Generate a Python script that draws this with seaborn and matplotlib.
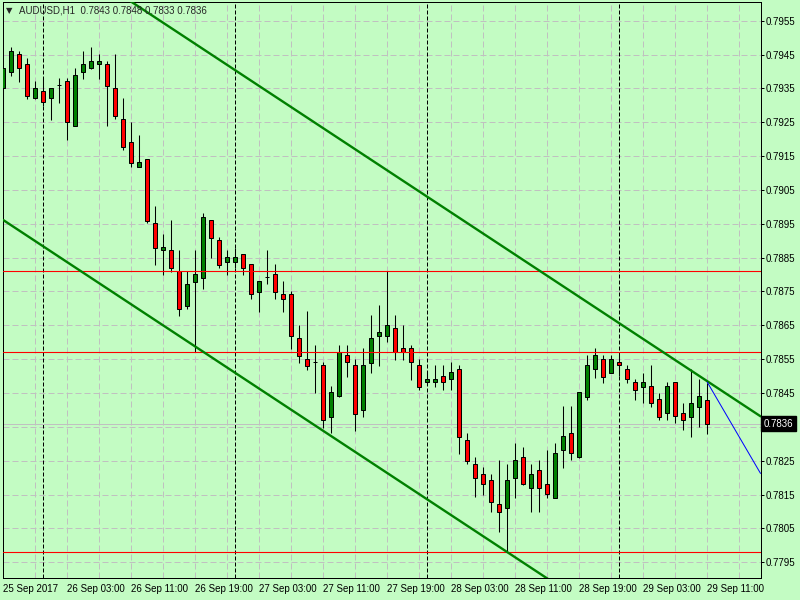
"""AUDUSD H1 candlestick chart with channel and level lines (MT4 style)."""

import matplotlib

matplotlib.use("Agg")

import matplotlib.pyplot as plt
import matplotlib.transforms as mtransforms
import numpy as np
import pandas as pd
import seaborn as sns

# hourly bars, 25 Sep 2017 19:00 .. 29 Sep 2017 11:00
opens = [
    0.79350, 0.79399, 0.79451, 0.79421, 0.79321, 0.79341, 0.79321, 0.79359, 0.79371, 0.79240,
    0.79399, 0.79409, 0.79421, 0.79421, 0.79350, 0.79259, 0.79191, 0.79119, 0.79141, 0.78951,
    0.78872, 0.78872, 0.78810, 0.78708, 0.78779, 0.78791, 0.78960, 0.78902, 0.78838, 0.78838,
    0.78860, 0.78830, 0.78749, 0.78792, 0.78801, 0.78742, 0.78742, 0.78612, 0.78551, 0.78541,
    0.78532, 0.78380, 0.78440, 0.78562, 0.78532, 0.78401, 0.78540, 0.78619, 0.78619, 0.78641,
    0.78582, 0.78582, 0.78533, 0.78482, 0.78482, 0.78500, 0.78491, 0.78521, 0.78311, 0.78241,
    0.78210, 0.78192, 0.78121, 0.78111, 0.78200, 0.78260, 0.78170, 0.78222, 0.78180, 0.78141,
    0.78281, 0.78331, 0.78260, 0.78439, 0.78520, 0.78550, 0.78510, 0.78541, 0.78520, 0.78482,
    0.78469, 0.78470, 0.78432, 0.78390, 0.78482, 0.78390, 0.78380, 0.78410, 0.78430,
]
highs = [
    0.79410, 0.79471, 0.79460, 0.79439, 0.79372, 0.79380, 0.79350, 0.79380, 0.79380, 0.79409,
    0.79460, 0.79471, 0.79451, 0.79430, 0.79451, 0.79321, 0.79250, 0.79212, 0.79142, 0.79003,
    0.78920, 0.78961, 0.78873, 0.78810, 0.78873, 0.78983, 0.78962, 0.78910, 0.78873, 0.78879,
    0.78862, 0.78832, 0.78782, 0.78873, 0.78831, 0.78780, 0.78751, 0.78650, 0.78692, 0.78592,
    0.78541, 0.78472, 0.78592, 0.78592, 0.78551, 0.78582, 0.78681, 0.78710, 0.78810, 0.78680,
    0.78650, 0.78591, 0.78550, 0.78512, 0.78533, 0.78533, 0.78542, 0.78533, 0.78331, 0.78260,
    0.78231, 0.78210, 0.78252, 0.78240, 0.78302, 0.78290, 0.78240, 0.78252, 0.78282, 0.78302,
    0.78412, 0.78412, 0.78454, 0.78562, 0.78582, 0.78562, 0.78562, 0.78562, 0.78532, 0.78491,
    0.78510, 0.78532, 0.78451, 0.78482, 0.78484, 0.78420, 0.78520, 0.78491, 0.78480,
]
lows = [
    0.79240, 0.79388, 0.79370, 0.79319, 0.79318, 0.79298, 0.79257, 0.79308, 0.79198, 0.79238,
    0.79378, 0.79408, 0.79378, 0.79240, 0.79259, 0.79168, 0.79119, 0.79117, 0.78951, 0.78828,
    0.78799, 0.78809, 0.78679, 0.78699, 0.78570, 0.78758, 0.78850, 0.78820, 0.78799, 0.78819,
    0.78799, 0.78728, 0.78690, 0.78771, 0.78729, 0.78689, 0.78580, 0.78540, 0.78519, 0.78451,
    0.78346, 0.78331, 0.78438, 0.78498, 0.78339, 0.78380, 0.78510, 0.78531, 0.78600, 0.78549,
    0.78549, 0.78489, 0.78459, 0.78474, 0.78469, 0.78459, 0.78459, 0.78271, 0.78240, 0.78144,
    0.78149, 0.78100, 0.78040, 0.77980, 0.78141, 0.78178, 0.78100, 0.78100, 0.78141, 0.78139,
    0.78230, 0.78252, 0.78258, 0.78430, 0.78494, 0.78481, 0.78508, 0.78500, 0.78481, 0.78430,
    0.78420, 0.78410, 0.78370, 0.78370, 0.78361, 0.78340, 0.78321, 0.78351, 0.78330,
]
closes = [
    0.79409, 0.79460, 0.79409, 0.79328, 0.79350, 0.79309, 0.79350, 0.79359, 0.79250, 0.79390,
    0.79421, 0.79430, 0.79430, 0.79358, 0.79269, 0.79178, 0.79130, 0.79132, 0.78959, 0.78879,
    0.78881, 0.78820, 0.78699, 0.78771, 0.78801, 0.78969, 0.78909, 0.78829, 0.78851, 0.78851,
    0.78820, 0.78742, 0.78780, 0.78792, 0.78749, 0.78729, 0.78619, 0.78560, 0.78531, 0.78541,
    0.78370, 0.78452, 0.78570, 0.78541, 0.78389, 0.78532, 0.78612, 0.78630, 0.78650, 0.78570,
    0.78570, 0.78541, 0.78469, 0.78491, 0.78491, 0.78482, 0.78511, 0.78321, 0.78250, 0.78200,
    0.78180, 0.78129, 0.78100, 0.78192, 0.78252, 0.78180, 0.78210, 0.78170, 0.78151, 0.78272,
    0.78322, 0.78272, 0.78452, 0.78532, 0.78562, 0.78498, 0.78550, 0.78532, 0.78491, 0.78460,
    0.78482, 0.78420, 0.78380, 0.78470, 0.78382, 0.78370, 0.78420, 0.78440, 0.78360,
]

time_labels = [
    "25 Sep 2017", "26 Sep 03:00", "26 Sep 11:00", "26 Sep 19:00", "27 Sep 03:00",
    "27 Sep 11:00", "27 Sep 19:00", "28 Sep 03:00", "28 Sep 11:00", "28 Sep 19:00",
    "29 Sep 03:00", "29 Sep 11:00",
]
label_bars = [0, 8, 16, 24, 32, 40, 48, 56, 64, 72, 80, 88]
day_start_bars = [5, 29, 53, 77]

price_ticks = [0.7795 + 0.001 * k for k in range(17)]
level_lines = [0.78810, 0.78570, 0.77980]
upper_channel = [(0, 0.79855), (86, 0.78516)]
lower_channel = [(0, 0.78961), (63, 0.77980)]
blue_ray = [(88, 0.78482), (92, 0.78320)]
last_price = 0.7836
title = "AUDUSD,H1  0.7843 0.7848 0.7833 0.7836"

BG = "#c3fcc3"
BULL = "#008000"
BEAR = "#ff0000"
GRID = "#c0c0c0"
X_RIGHT = 94.65


def ray(points, x_end):
    (x0, y0), (x1, y1) = points
    slope = (y1 - y0) / (x1 - x0)
    xs = np.array([x0, x_end])
    return xs, y0 + slope * (xs - x0)


sns.set_theme(
    style="white",
    rc={
        "figure.facecolor": BG,
        "axes.facecolor": BG,
        "axes.edgecolor": "black",
        "axes.linewidth": 0.72,
        "xtick.color": "black",
        "ytick.color": "black",
    },
)
plt.rcParams["font.family"] = ["Liberation Sans", "DejaVu Sans"]

frame = pd.DataFrame({"open": opens, "high": highs, "low": lows, "close": closes})
frame["bar"] = np.arange(len(frame))
bull = frame["close"] >= frame["open"]

fig = plt.figure(figsize=(8, 6), dpi=100)
ax = fig.add_axes([2.5 / 800, 22 / 600, 758 / 800, 576 / 600])

# grid
for y in price_ticks:
    ax.axhline(y, color=GRID, lw=0.72, ls=(0, (6, 3)), zorder=0)
for x in range(4, 95, 4):
    ax.axvline(x, color=GRID, lw=0.72, ls=(0, (6, 3)), zorder=0)
for x in day_start_bars:
    ax.axvline(x, color="black", lw=0.72, ls=(0, (4, 2)), zorder=1)
ax.axhline(last_price, color=GRID, lw=0.72, zorder=1)

# candles
ax.vlines(frame["bar"], frame["low"], frame["high"], color="black", lw=0.75, zorder=3)
ax.bar(
    frame["bar"],
    frame["close"] - frame["open"],
    bottom=frame["open"],
    width=0.5,
    color=np.where(bull, BULL, BEAR),
    edgecolor="black",
    linewidth=0.72,
    zorder=4,
)

# objects
for level in level_lines:
    ax.axhline(level, color="red", lw=0.8, zorder=5)
for channel in (upper_channel, lower_channel):
    xs, ys = ray(channel, X_RIGHT)
    sns.lineplot(x=xs, y=ys, ax=ax, color="#008000", linewidth=1.7, zorder=6)
xs, ys = ray(blue_ray, X_RIGHT)
sns.lineplot(x=xs, y=ys, ax=ax, color="blue", linewidth=0.72, zorder=6)

ax.set_xlim(-0.1, X_RIGHT)
ax.set_ylim(0.779036, 0.796052)

ax.set_xticks(label_bars)
ax.set_xticklabels(time_labels, ha="left", fontsize=7)
ax.tick_params(axis="x", direction="out", length=3, width=0.72, pad=1.5)

# the tick label hidden under the last-price marker is left blank
ax.yaxis.tick_right()
ax.set_yticks(price_ticks)
ax.set_yticklabels(
    ["" if abs(v - last_price) < 0.0003 else f"{v:.4f}" for v in price_ticks],
    fontsize=7,
)
ax.tick_params(axis="y", direction="out", length=2.5, width=0.72, pad=1.5)
ax.set_xlabel("")
ax.set_ylabel("")
for spine in ax.spines.values():
    spine.set_visible(True)
    spine.set_color("black")

# last price marker on the price scale
marker_tf = mtransforms.blended_transform_factory(ax.transAxes, ax.transData)
ax.text(
    1.0 + 3 / 758, last_price, f"{last_price:.4f}",
    transform=marker_tf, ha="left", va="center", fontsize=7, color="white",
    bbox=dict(boxstyle="square,pad=0.25", facecolor="black", edgecolor="black"),
    zorder=10, clip_on=False,
)

fig.text(6 / 800, 1 - 10.5 / 600, "\u25bc", fontsize=6, ha="left", va="center",
         family=["DejaVu Sans"])
fig.text(19 / 800, 1 - 10.5 / 600, title, fontsize=7, ha="left", va="center")

fig.savefig("out.png", dpi=100, facecolor=BG)
plt.close(fig)
